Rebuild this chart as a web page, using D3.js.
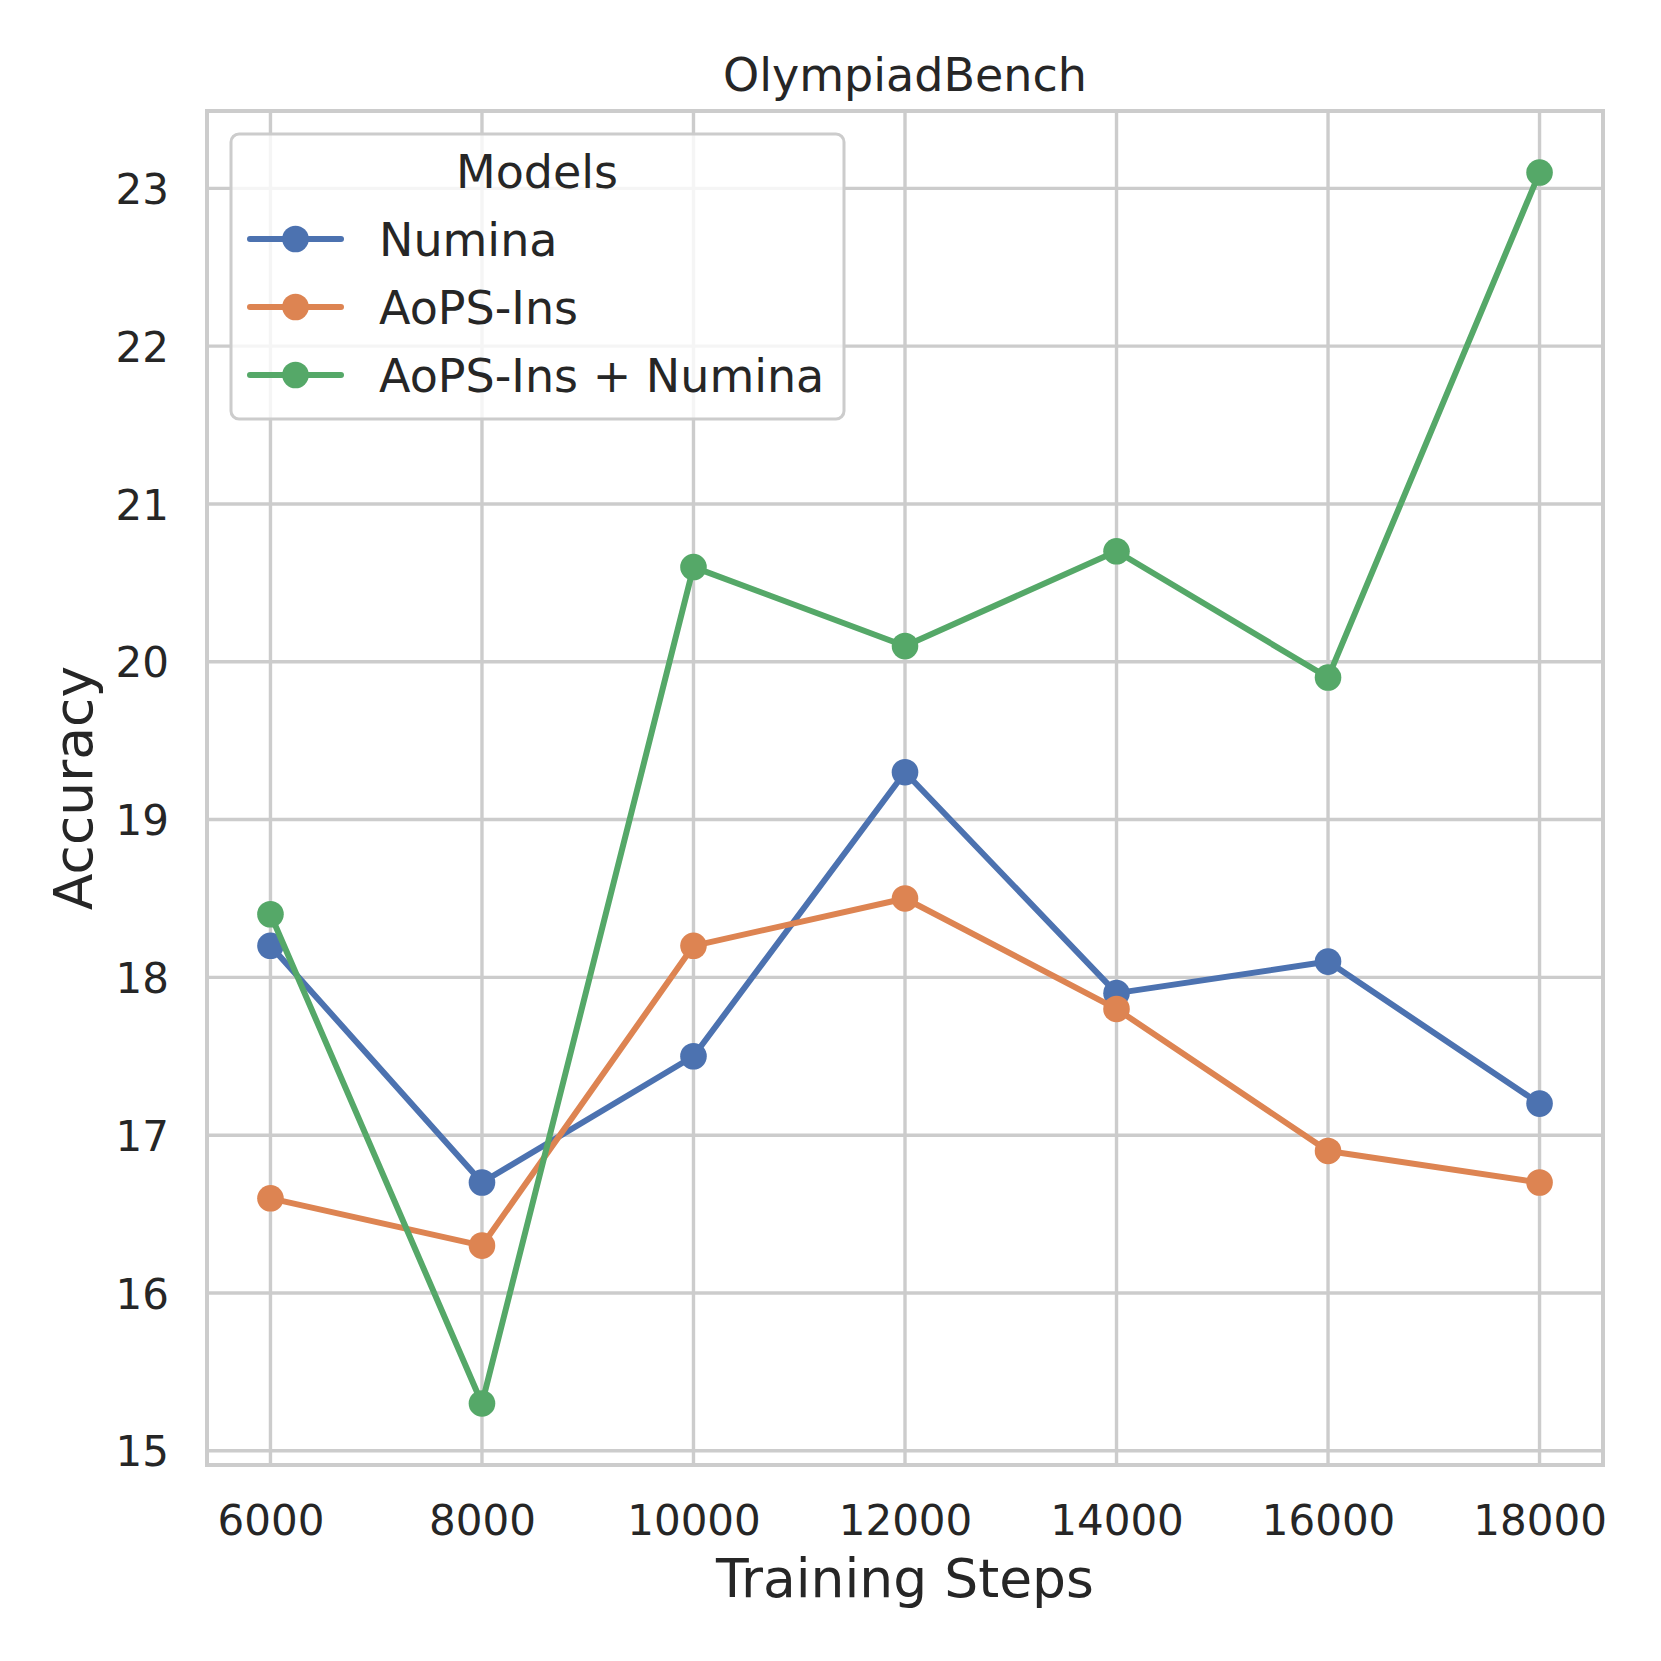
<!DOCTYPE html>
<html>
<head>
<meta charset="utf-8">
<script src="https://cdn.jsdelivr.net/npm/d3@7"></script>
<style>
  body { margin: 0; background: #fff; }
  text { font-family: "DejaVu Sans", sans-serif; fill: #262626; }
</style>
</head>
<body>
<div id="chart"></div>
<script>
// data
var steps = [6000, 8000, 10000, 12000, 14000, 16000, 18000];
var numina = [18.2, 16.7, 17.5, 19.3, 17.9, 18.1, 17.2];
var aops = [16.6, 16.3, 18.2, 18.5, 17.8, 16.9, 16.7];
var combined = [18.4, 15.3, 20.6, 20.1, 20.7, 19.9, 23.1];
var seriesNames = ["Numina", "AoPS-Ins", "AoPS-Ins + Numina"];
var yTicks = [15, 16, 17, 18, 19, 20, 21, 22, 23];
var colors = ["#4C72B0", "#DD8452", "#55A868"];

var W = 1661, H = 1661;
var margin = {top: 111, right: 58, bottom: 196, left: 207};

var svg = d3.select("#chart").append("svg")
  .attr("width", W).attr("height", H);

var allSeries = [numina, aops, combined];
var yMin = d3.min(allSeries, s => d3.min(s)), yMax = d3.max(allSeries, s => d3.max(s));
var yPad = (yMax - yMin) * 0.05;
var xPad = (d3.max(steps) - d3.min(steps)) * 0.05;

var x = d3.scaleLinear()
  .domain([d3.min(steps) - xPad, d3.max(steps) + xPad])
  .range([margin.left, W - margin.right]);
var y = d3.scaleLinear()
  .domain([yMin - yPad, yMax + yPad])
  .range([H - margin.bottom, margin.top]);

// grid
var grid = svg.append("g").attr("stroke", "#cccccc").attr("stroke-width", 3.4);
grid.selectAll("line.v").data(steps).join("line")
  .attr("class", "v")
  .attr("x1", d => x(d)).attr("x2", d => x(d))
  .attr("y1", y.range()[0]).attr("y2", y.range()[1]);
grid.selectAll("line.h").data(yTicks).join("line")
  .attr("class", "h")
  .attr("y1", d => y(d)).attr("y2", d => y(d))
  .attr("x1", x.range()[0]).attr("x2", x.range()[1]);

// axes (labels only, the frame is drawn after the lines)
var xAxis = svg.append("g")
  .attr("transform", `translate(0,${H - margin.bottom})`)
  .call(d3.axisBottom(x).tickValues(steps).tickSize(0).tickPadding(0).tickFormat(d3.format("d")));
xAxis.select(".domain").remove();
xAxis.selectAll("text")
  .attr("y", 70).attr("dy", 0)
  .style("font-size", "42px").attr("fill", "#262626");

var yAxis = svg.append("g")
  .attr("transform", `translate(${margin.left},0)`)
  .call(d3.axisLeft(y).tickValues(yTicks).tickSize(0).tickPadding(0));
yAxis.select(".domain").remove();
yAxis.selectAll("text")
  .attr("x", -38).attr("dy", "0.36em")
  .style("font-size", "42px").attr("fill", "#262626");

// lines
var line = d3.line().x((d, i) => x(steps[i])).y(d => y(d));
allSeries.forEach(function(s, k) {
  var g = svg.append("g");
  g.append("path")
    .datum(s)
    .attr("d", line)
    .attr("fill", "none")
    .attr("stroke", colors[k])
    .attr("stroke-width", 6)
    .attr("stroke-linejoin", "round")
    .attr("stroke-linecap", "round");
  g.selectAll("circle").data(s).join("circle")
    .attr("cx", (d, i) => x(steps[i]))
    .attr("cy", d => y(d))
    .attr("r", 13.3)
    .attr("fill", colors[k]);
});

// frame
svg.append("rect")
  .attr("x", x.range()[0]).attr("y", y.range()[1])
  .attr("width", x.range()[1] - x.range()[0])
  .attr("height", y.range()[0] - y.range()[1])
  .attr("fill", "none").attr("stroke", "#cccccc").attr("stroke-width", 4);

// titles
svg.append("text")
  .attr("x", (x.range()[0] + x.range()[1]) / 2).attr("y", 91)
  .attr("text-anchor", "middle").style("font-size", "46px")
  .text("OlympiadBench");
svg.append("text")
  .attr("x", (x.range()[0] + x.range()[1]) / 2).attr("y", 1597)
  .attr("text-anchor", "middle").style("font-size", "53.5px")
  .text("Training Steps");
svg.append("text")
  .attr("transform", `translate(92,${(y.range()[0] + y.range()[1]) / 2}) rotate(-90)`)
  .attr("text-anchor", "middle").style("font-size", "53.5px")
  .text("Accuracy");

// legend
var lg = svg.append("g").attr("transform", "translate(231,134)");
lg.append("rect")
  .attr("width", 613).attr("height", 285).attr("rx", 8)
  .attr("fill", "#fff").attr("fill-opacity", 0.8)
  .attr("stroke", "#cccccc").attr("stroke-width", 3);
lg.append("text")
  .attr("x", 306).attr("y", 54).attr("text-anchor", "middle")
  .style("font-size", "46px").text("Models");
var item = lg.selectAll("g.item").data(seriesNames).join("g")
  .attr("class", "item")
  .attr("transform", (d, i) => `translate(0,${105 + i * 68})`);
item.append("line")
  .attr("x1", 19).attr("x2", 110)
  .attr("stroke", (d, i) => colors[i]).attr("stroke-width", 6)
  .attr("stroke-linecap", "round");
item.append("circle")
  .attr("cx", 64.5).attr("r", 13.3)
  .attr("fill", (d, i) => colors[i]);
item.append("text")
  .attr("x", 148).attr("dy", "0.36em")
  .style("font-size", "46px")
  .text(d => d);
</script>
</body>
</html>
